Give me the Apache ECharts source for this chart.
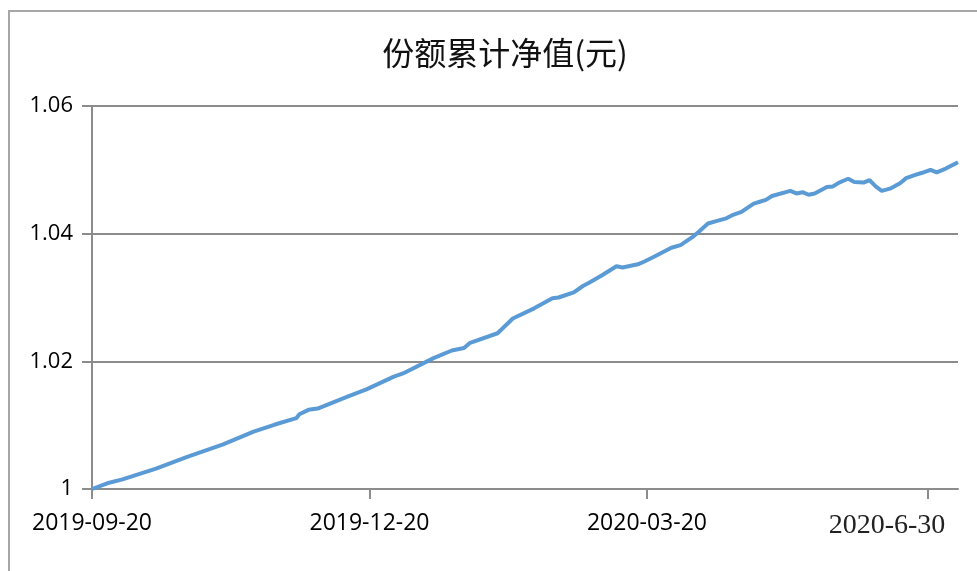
<!DOCTYPE html>
<html>
<head>
<meta charset="utf-8">
<script src="https://cdn.jsdelivr.net/npm/echarts@6/dist/echarts.min.js"></script>
<style>
  html, body { margin: 0; padding: 0; background: #fff; }
  #frame { position: absolute; left: 8px; top: 10px; width: 969px; height: 561px;
           border-left: 2px solid #a6a6a6; border-top: 2px solid #a6a6a6; }
  #chart { position: absolute; left: 0; top: 0; width: 977px; height: 571px; }
</style>
</head>
<body>
<div id="frame"></div>
<div id="chart"></div>
<script>
const titleText = '份额累计净值(元)';

const dates = [
  '2019-09-20','2019-09-25','2019-09-30','2019-10-11','2019-10-21','2019-11-02','2019-11-12','2019-11-19',
  '2019-11-26','2019-11-27','2019-11-30','2019-12-03','2019-12-13','2019-12-19','2019-12-28','2019-12-31',
  '2020-01-10','2020-01-16','2020-01-20','2020-01-22','2020-01-31','2020-02-05','2020-02-12','2020-02-15',
  '2020-02-18','2020-02-20','2020-02-25','2020-02-28','2020-03-01','2020-03-05','2020-03-10','2020-03-12',
  '2020-03-17','2020-03-19','2020-03-22','2020-03-28','2020-03-31','2020-04-04','2020-04-06','2020-04-09',
  '2020-04-12','2020-04-15','2020-04-17','2020-04-20','2020-04-24','2020-04-26','2020-04-28','2020-04-30',
  '2020-05-06','2020-05-08','2020-05-10','2020-05-12','2020-05-14','2020-05-18','2020-05-20','2020-05-22',
  '2020-05-25','2020-05-27','2020-05-30','2020-06-01','2020-06-03','2020-06-05','2020-06-08','2020-06-11',
  '2020-06-13','2020-06-16','2020-06-18','2020-06-21','2020-06-23','2020-06-26','2020-06-30'
];

const navValues = [
  1.0000,1.0009,1.0015,1.0032,1.0050,1.0070,1.0090,1.0101,
  1.0111,1.0117,1.0124,1.0126,1.0145,1.0156,1.0176,1.0181,
  1.0205,1.0217,1.0221,1.0229,1.0244,1.0267,1.0283,1.0291,
  1.0299,1.0300,1.0308,1.0318,1.0323,1.0334,1.0349,1.0347,
  1.0352,1.0356,1.0363,1.0378,1.0382,1.0395,1.0403,1.0416,
  1.0420,1.0424,1.0429,1.0434,1.0447,1.0450,1.0453,1.0459,
  1.0467,1.0463,1.0465,1.0461,1.0463,1.0473,1.0474,1.0480,
  1.0486,1.0481,1.0480,1.0484,1.0474,1.0467,1.0471,1.0479,
  1.0487,1.0492,1.0495,1.0500,1.0496,1.0502,1.0512
];

const xTickDates = ['2019-09-20','2019-12-20','2020-03-20','2020-06-20'];
const xTickLabels = ['2019-09-20','2019-12-20','2020-03-20','2020-6-30'];
const xRange = ['2019-09-20','2020-06-30'];
const yRange = [1, 1.06];
const yStep = 0.02;

function parseDay(s) {
  const p = s.split('-').map(Number);
  return new Date(p[0], p[1] - 1, p[2]).getTime();
}

const tickTs = xTickDates.map(parseDay);
const seriesData = dates.map((d, i) => [parseDay(d), navValues[i]]);

const gray = '#8c8c8c';
const chart = echarts.init(document.getElementById('chart'));
chart.setOption({
  animation: false,
  title: {
    text: titleText,
    left: 500,
    textAlign: 'center',
    top: 32,
    textStyle: { fontFamily: 'Noto Sans CJK SC', fontSize: 32, fontWeight: 'normal', color: '#111' }
  },
  grid: { left: 92, right: 19, top: 106, bottom: 82, outerBoundsMode: 'none', containLabel: false },
  xAxis: {
    type: 'value',
    min: parseDay(xRange[0]),
    max: parseDay(xRange[1]),
    scale: true,
    axisLine: { show: true, lineStyle: { color: gray, width: 2 } },
    axisTick: { show: true, length: 10, lineStyle: { color: gray, width: 2 }, customValues: tickTs },
    splitLine: { show: false },
    axisLabel: {
      customValues: tickTs,
      margin: 23,
      color: '#000',
      fontFamily: 'Open Sans',
      fontSize: 23,
      formatter: function (val) {
        let idx = 0, best = Infinity;
        tickTs.forEach((t, i) => { const d = Math.abs(t - val); if (d < best) { best = d; idx = i; } });
        const lab = xTickLabels[idx];
        return idx === tickTs.length - 1 ? '{s|' + lab + '}' : lab;
      },
      rich: {
        s: { fontFamily: 'Liberation Serif', fontSize: 28, color: '#222', padding: [0, 81, 0, 0] }
      }
    }
  },
  yAxis: {
    type: 'value',
    min: yRange[0],
    max: yRange[1],
    interval: yStep,
    axisLine: { show: true, lineStyle: { color: gray, width: 2 } },
    axisTick: { show: true, length: 10, lineStyle: { color: gray, width: 2 } },
    splitLine: { show: true, lineStyle: { color: gray, width: 2 } },
    axisLabel: {
      margin: 19,
      color: '#000',
      fontFamily: 'Open Sans',
      fontSize: 22,
      formatter: function (v) { return String(+v.toFixed(2)); }
    }
  },
  series: [{
    type: 'line',
    data: seriesData,
    showSymbol: false,
    symbol: 'none',
    lineStyle: { color: '#5b9bd5', width: 4 },
    itemStyle: { color: '#5b9bd5' }
  }]
});
</script>
</body>
</html>
